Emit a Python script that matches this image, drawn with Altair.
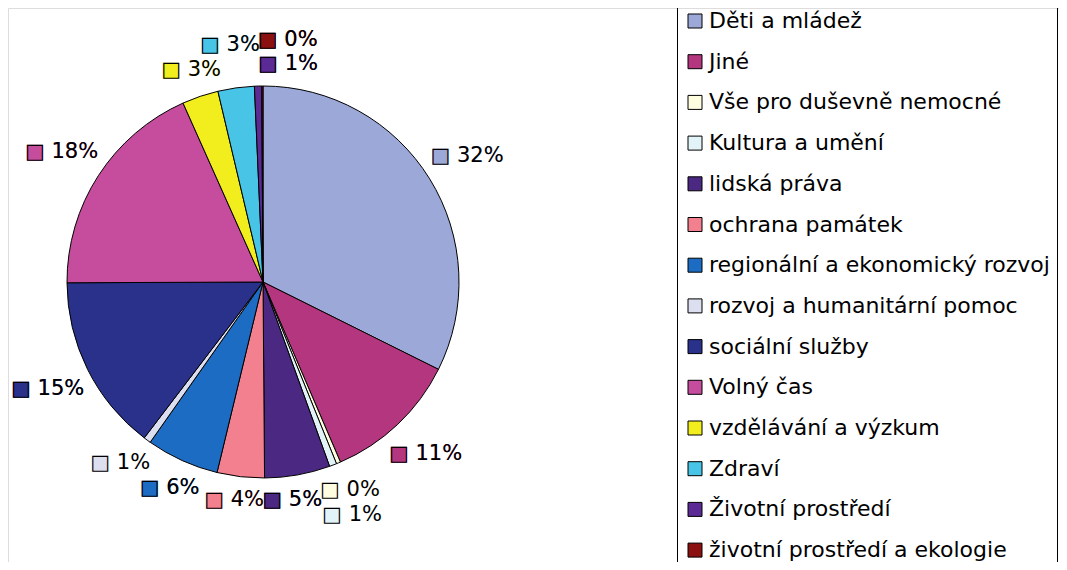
import math
import altair as alt
import pandas as pd

categories = [
    "Děti a mládež", "Jiné", "Vše pro duševně nemocné", "Kultura a umění",
    "lidská práva", "ochrana památek", "regionální a ekonomický rozvoj",
    "rozvoj a humanitární pomoc", "sociální služby", "Volný čas",
    "vzdělávání a výzkum", "Zdraví", "Životní prostředí",
    "životní prostředí a ekologie",
]
values = [32.4, 11.2, 0.35, 0.6, 5.4, 3.9, 6.0, 0.6, 14.6, 18.4, 3.0, 3.0, 0.6, 0.1]
colors = [
    "#9ba8d8", "#b4367e", "#fffde0", "#e2f4f8", "#4b2882", "#f2808e",
    "#1d6cc4", "#dcdff0", "#2a318a", "#c64c9e", "#f2ee1e", "#48c4e6",
    "#5b2a94", "#8b1010",
]

# layout constants
CX, CY, R = 255, 274, 196
FONT = "DejaVu Sans"
FS_LBL = 21
FS_LEG = 22
W_MAX, H_MAX = 650, 552

total = sum(values)
pct = [round(100 * v / total) for v in values]
labels = [f"{p}%" for p in pct]

# mid-angle position of each slice (in value units, same scale as the stacked arcs)
mids = []
run = 0.0
for v in values:
    mids.append(run + v / 2)
    run += v


def text_w(s):
    k = FS_LBL / 20
    return sum((19 if c == "%" else 12.7) * k for c in s)


def base_dist(a, w, h):
    return R + 9 + w / 2 * abs(math.sin(a)) + h / 2 * abs(math.cos(a))


# outside-label placement: search small angular shifts / outward pushes
boxes, l_theta, l_rad = [], [], []
for m, lab in zip(mids, labels):
    a0 = 2 * math.pi * m / total
    w = 16 + 6 + text_w(lab)
    h = 22
    best = None
    for step in range(-40, 41):
        da = math.radians(step * 0.5)
        a = a0 + da
        d0 = base_dist(a, w, h)
        for extra in range(0, 90):
            d = d0 + extra
            cost = extra + 1.2 * abs(d * da)
            if best is not None and cost >= best[0]:
                break
            cx = CX + d * math.sin(a)
            cy = CY - d * math.cos(a)
            box = (cx - w / 2, cy - h / 2, cx + w / 2, cy + h / 2)
            if box[0] < 2 or box[1] < 4 or box[2] > W_MAX or box[3] > H_MAX:
                continue
            clash = any(
                box[0] < b[2] + 2 and b[0] < box[2] + 2 and box[1] < b[3] + 2 and b[1] < box[3] + 2
                for b in boxes
            )
            if not clash:
                best = (cost, a, d, box)
                break
    _, a, d, box = best
    boxes.append(box)
    l_theta.append(a / (2 * math.pi) * total)
    l_rad.append(d)

df = pd.DataFrame({
    "cat": categories,
    "value": values,
    "idx": list(range(len(values))),
    "fill_lbl": ["■ " + l for l in labels],
    "edge_lbl": ["□ " + l for l in labels],
    "lt": l_theta,
    "lr": l_rad,
})

color_scale = alt.Scale(domain=categories, range=colors)
theta_scale = alt.Scale(domain=[0, total])

base = alt.Chart(df).encode(x=alt.value(CX), y=alt.value(CY))

pie = base.mark_arc(radius=R, stroke="black", strokeWidth=1).encode(
    theta=alt.Theta("value:Q", stack=True, scale=theta_scale),
    order=alt.Order("idx:Q"),
    color=alt.Color(
        "cat:N",
        scale=color_scale,
        sort=categories,
        legend=alt.Legend(
            title=None,
            orient="none",
            legendX=669,
            legendY=-5,
            direction="vertical",
            symbolType="square",
            symbolSize=196,
            symbolStrokeColor="black",
            symbolStrokeWidth=1,
            symbolOffset=0,
            labelFont=FONT,
            labelFontSize=FS_LEG,
            labelColor="black",
            labelLimit=700,
            labelOffset=3,
            rowPadding=18.7,
            padding=7,
            strokeColor="black",
        ),
    ),
)

fill_txt = base.mark_text(font=FONT, fontSize=FS_LBL, align="center", baseline="middle").encode(
    theta=alt.Theta("lt:Q", stack=None, scale=theta_scale),
    radius=alt.Radius("lr:Q", scale=None),
    text="fill_lbl:N",
    color=alt.Color("cat:N", scale=color_scale, legend=None),
)

edge_txt = base.mark_text(font=FONT, fontSize=FS_LBL, align="center", baseline="middle", color="black").encode(
    theta=alt.Theta("lt:Q", stack=None, scale=theta_scale),
    radius=alt.Radius("lr:Q", scale=None),
    text="edge_lbl:N",
)

chart = alt.layer(pie, fill_txt, edge_txt).properties(
    width=1051,
    height=554,
    autosize=alt.AutoSizeParams(type="none"),
    padding=0,
).configure_view(stroke=None).configure(background="white")

chart.save("out.html", embed_options={"renderer": "svg", "actions": False})
